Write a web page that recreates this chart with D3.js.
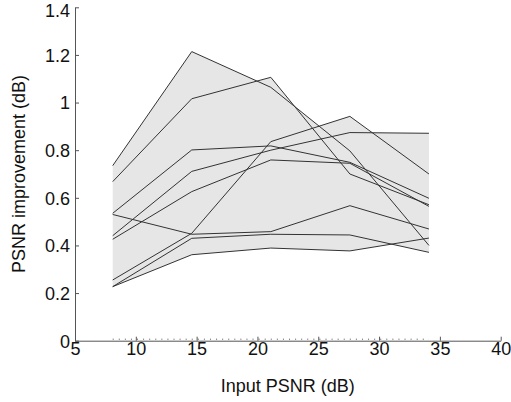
<!DOCTYPE html>
<html>
<head>
<meta charset="utf-8">
<script src="https://cdn.jsdelivr.net/npm/d3@7"></script>
<style>
  html, body { margin: 0; padding: 0; background: #fff; }
  svg { display: block; }
  text { font-family: "Liberation Sans", Arial, Helvetica, sans-serif; fill: #111; }
</style>
</head>
<body>
<svg id="chart" width="511" height="402"></svg>
<script>
// Data
const inputPSNR = [8.1, 14.6, 21.1, 27.6, 34.1];
const series1 = [0.735, 1.214, 1.064, 0.797, 0.400];
const series2 = [0.668, 1.016, 1.106, 0.700, 0.571];
const series3 = [0.535, 0.801, 0.818, 0.749, 0.598];
const series4 = [0.441, 0.711, 0.800, 0.874, 0.871];
const series5 = [0.426, 0.626, 0.759, 0.745, 0.564];
const series6 = [0.530, 0.447, 0.458, 0.567, 0.469];
const series7 = [0.255, 0.451, 0.836, 0.942, 0.700];
const series8 = [0.227, 0.430, 0.447, 0.444, 0.371];
const series9 = [0.227, 0.361, 0.389, 0.377, 0.431];
const allSeries = [series1, series2, series3, series4, series5, series6, series7, series8, series9];
const xTicks = [5, 10, 15, 20, 25, 30, 35, 40];
const yTicks = [0, 0.2, 0.4, 0.6, 0.8, 1, 1.2, 1.4];
const xLabel = "Input PSNR (dB)";
const yLabel = "PSNR improvement (dB)";

(function () {
const svg = d3.select("#chart");
const mLeft = 75, mRight = 500.7, mTop = 7.3, mBottom = 340.7;
const FS = 18;

const x = d3.scaleLinear().domain([5, 40]).range([mLeft, mRight]);
const y = d3.scaleLinear().domain([0, 1.4]).range([mBottom, mTop]);

// envelope: pointwise min/max of the piecewise-linear series
const interp = (s, xv) => {
  let i = 0;
  while (i < inputPSNR.length - 2 && xv > inputPSNR[i + 1]) i++;
  const t = (xv - inputPSNR[i]) / (inputPSNR[i + 1] - inputPSNR[i]);
  return s[i] + t * (s[i + 1] - s[i]);
};
const xs = [];
const x0 = inputPSNR[0], x1 = inputPSNR[inputPSNR.length - 1];
const nS = 1040;
for (let k = 0; k <= nS; k++) xs.push(x0 + (x1 - x0) * k / nS);
const env = xs.map(xv => ({
  x: xv,
  lo: d3.min(allSeries, s => interp(s, xv)),
  hi: d3.max(allSeries, s => interp(s, xv))
}));
svg.append("path")
  .datum(env)
  .attr("fill", "#e6e6e6")
  .attr("stroke", "none")
  .attr("d", d3.area().x(d => x(d.x)).y0(d => y(d.lo)).y1(d => y(d.hi)));

// dotted zero line over data range
svg.append("line")
  .attr("x1", x(x0)).attr("x2", x(x1))
  .attr("y1", y(0) - 1.5).attr("y2", y(0) - 1.5)
  .attr("stroke", "#555").attr("stroke-width", 1)
  .attr("stroke-dasharray", "1,5.08");

// lines
const line = d3.line().x((d, i) => x(inputPSNR[i])).y(d => y(d));
svg.selectAll("path.series")
  .data(allSeries)
  .enter().append("path")
  .attr("class", "series")
  .attr("fill", "none")
  .attr("stroke", "#333")
  .attr("stroke-width", 1)
  .attr("d", line);

// axes
const xAxis = d3.axisBottom(x).tickValues(xTicks).tickSizeInner(-4).tickSizeOuter(0).tickPadding(2)
  .tickFormat(d3.format("d"));
const yAxis = d3.axisLeft(y).tickValues(yTicks).tickSizeInner(-4).tickSizeOuter(0).tickPadding(5)
  .tickFormat(d => d === 0 || d === 1 ? String(d) : d3.format(".1f")(d));

const gx = svg.append("g").attr("transform", `translate(0,${mBottom})`).call(xAxis);
const gy = svg.append("g").attr("transform", `translate(${mLeft},0)`).call(yAxis);
[gx, gy].forEach(g => {
  g.select(".domain").attr("stroke", "#555");
  g.selectAll(".tick line").attr("stroke", "#555");
  g.selectAll(".tick text").attr("font-size", FS).attr("fill", "#111")
    .style("font-family", '"Liberation Sans", Arial, sans-serif');
});
gx.selectAll(".tick text").attr("dy", "0.71em");
gy.selectAll(".tick text").attr("dy", d => d === 1.4 ? "0.5em" : "0.35em");

// labels
svg.append("text")
  .attr("x", (mLeft + mRight) / 2).attr("y", 392)
  .attr("text-anchor", "middle").attr("font-size", FS)
  .text(xLabel);
svg.append("text")
  .attr("transform", `translate(24.5,${(mTop + mBottom) / 2}) rotate(-90)`)
  .attr("text-anchor", "middle").attr("font-size", FS)
  .text(yLabel);
})();
</script>
</body>
</html>
